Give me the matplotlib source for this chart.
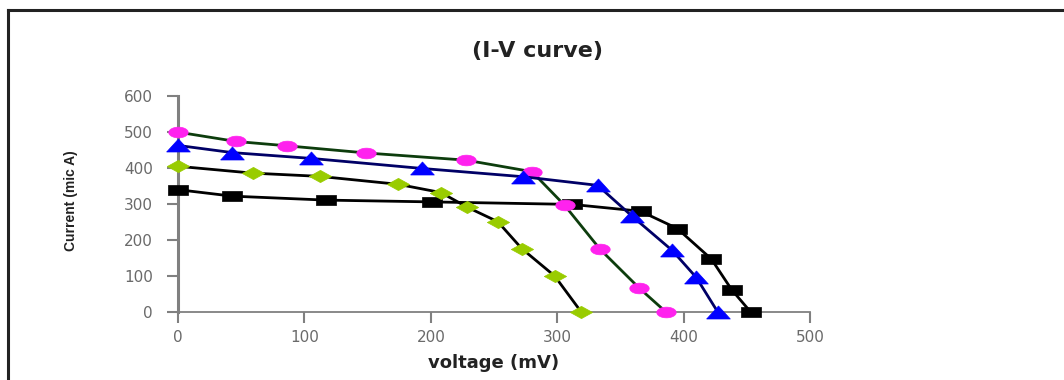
import numpy as np
import matplotlib
matplotlib.use("Agg")
import matplotlib.pyplot as plt
from matplotlib.lines import Line2D

# I-V readings (voltage in mV, current in mic A)
v_black = [0, 43, 117, 201, 312, 366, 395, 422, 438, 453]
i_black = [340, 322, 311, 306, 299, 280, 232, 147, 62, 0]

v_green = [0, 59, 112, 174, 208, 229, 253, 272, 298, 319]
i_green = [405, 386, 377, 355, 332, 291, 251, 176, 100, 0]

v_pink = [0, 46, 86, 149, 228, 280, 306, 334, 365, 386]
i_pink = [500, 474, 462, 442, 422, 390, 296, 174, 66, 0]

v_blue = [0, 43, 105, 193, 273, 332, 359, 391, 410, 427]
i_blue = [463, 443, 427, 399, 376, 352, 267, 171, 96, 0]

x_ticks = [0, 100, 200, 300, 400, 500]
y_ticks = [0, 100, 200, 300, 400, 500, 600]

plt.rcParams['font.family'] = ['DejaVu Sans']

# the source picture is stretched sideways, so the markers are wide and flat
h = 0.55
rect = [(-1, -h), (1, -h), (1, h), (-1, h), (-1, -h)]
diamond = [(-1, 0), (0, h), (1, 0), (0, -h), (-1, 0)]
tri = [(-1, -h), (0, h), (1, -h), (-1, -h)]
t = np.linspace(0, 2 * np.pi, 40)
ellipse = list(zip(np.cos(t), h * np.sin(t)))

fig = plt.figure(figsize=(10.64, 3.80), dpi=100)
ax = fig.add_axes([0.1673, 0.179, 0.594, 0.568])

# series: (x, y, line colour, marker, marker colour, size)
series = [
    (v_black, i_black, 'black', rect, 'black', 14),
    (v_green, i_green, 'black', diamond, '#99cc00', 16),
    (v_pink, i_pink, '#0d3d0d', ellipse, '#ff22ee', 14),
    (v_blue, i_blue, '#000066', tri, '#0000ff', 17),
]
for x, y, lc, m, mc, ms in series:
    ax.plot(x, y, color=lc, lw=2.0, marker=m, markersize=ms,
            markerfacecolor=mc, markeredgecolor=mc, markeredgewidth=0.5,
            clip_on=False, zorder=3)

ax.set_xlim(0, 500)
ax.set_ylim(0, 600)
ax.set_xticks(x_ticks)
ax.set_yticks(y_ticks)
for s in ['top', 'right']:
    ax.spines[s].set_visible(False)
for s in ['left', 'bottom']:
    ax.spines[s].set_color('#808080')
ax.spines['left'].set_linewidth(2.2)
ax.spines['bottom'].set_linewidth(1.3)
ax.tick_params(colors='#808080', labelcolor='#6a6a6a', labelsize=11,
               length=8, width=1.5, direction='out')
ax.tick_params(axis='x', pad=5)
ax.tick_params(axis='y', pad=10)

ax.set_xlabel('voltage (mV)', fontsize=13, fontweight='bold', color='#222222')
ax.xaxis.set_label_coords(0.5, -0.195)
ax.set_ylabel('Current (mic A)', fontsize=10, fontweight='bold', color='#222222',
              family=['Liberation Sans', 'DejaVu Sans'], va='center')
ax.yaxis.set_label_coords(-0.169, 0.514)
fig.text(0.505, 0.866, '(I-V curve)', ha='center', va='center',
         fontsize=16, fontweight='bold', color='#222222')

# border of the cropped chart area
fig.add_artist(Line2D([0.0075, 0.0075], [0, 0.974], color='#222222', lw=2.2))
fig.add_artist(Line2D([0.0075, 1], [0.974, 0.974], color='#222222', lw=2.2))

fig.savefig('out.png', dpi=100)
